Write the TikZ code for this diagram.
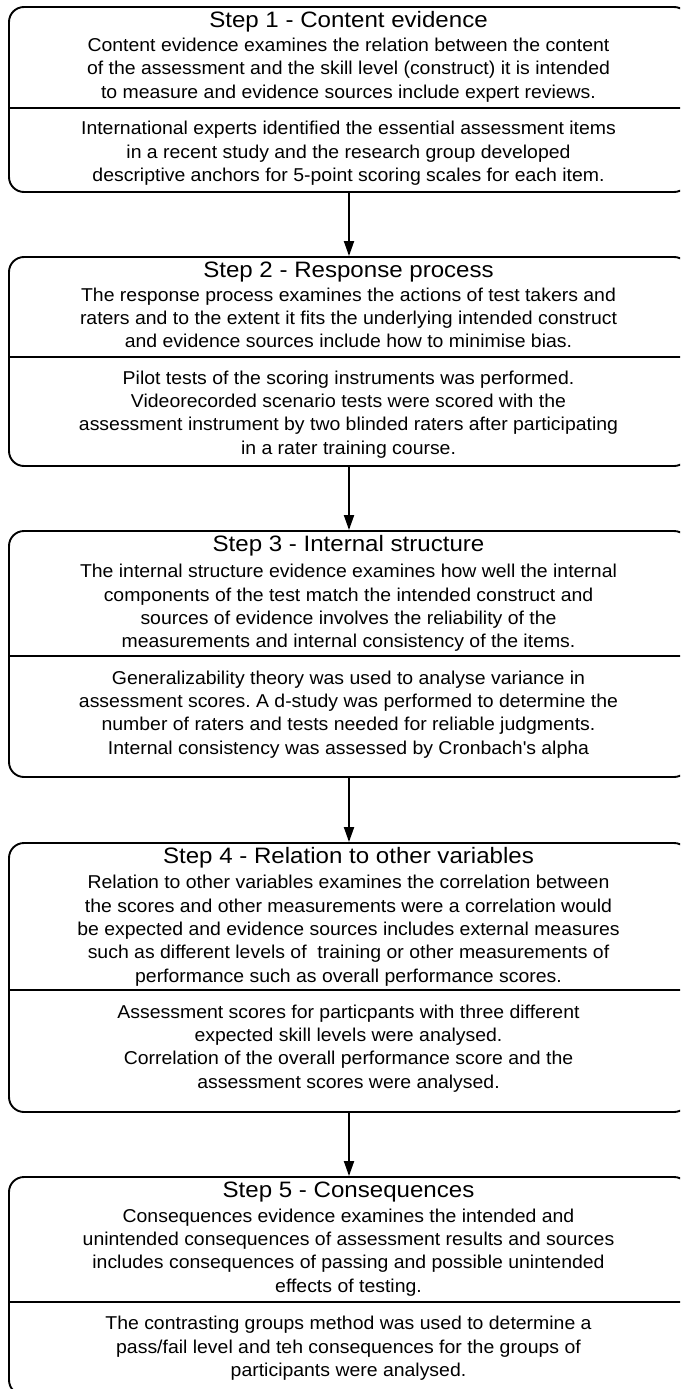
\documentclass[tikz,border=0pt]{standalone}
\usepackage{fontspec}
\setmainfont[FakeStretch=1.045]{Liberation Sans}
\newfontfamily\titlefont[FakeStretch=1.08]{Liberation Sans}
\usetikzlibrary{arrows.meta}
\frenchspacing
\newcommand{\firstline}{\rule{0pt}{16.3pt}}
\newcommand{\lastline}{\rule[-7pt]{0pt}{7pt}}
\begin{document}
\begin{tikzpicture}[x=1pt,y=-1pt,
  stepbox/.style={draw=black,line width=1.9pt,rounded corners=15pt,minimum width=680pt,inner sep=0pt,fill=white},
  divider/.style={draw=black,line width=1.9pt},
  title/.style={inner sep=0pt,anchor=base,font=\titlefont\fontsize{22.3}{26}\selectfont},
  body/.style={inner sep=0pt,anchor=north,align=center,font=\fontsize{18.6}{23.4}\selectfont,
    execute at begin node=\firstline, execute at end node=\lastline},
  link/.style={draw=black,line width=1.9pt,-{Triangle[width=10pt,length=15pt]}}]
\clip (0,0) rectangle (680,1389);
\fill[white] (0,0) rectangle (680,1389);
% boxes
\node[stepbox,minimum height=185pt] (b1) at (349,99.5) {};
\node[stepbox,minimum height=209pt] (b2) at (349,361.5) {};
\node[stepbox,minimum height=246pt] (b3) at (349,654) {};
\node[stepbox,minimum height=269pt] (b4) at (349,977.5) {};
\node[stepbox,minimum height=218pt] (b5) at (349,1286) {};
% dividers
\draw[divider] (b1.west |- 0,108) -- (b1.east |- 0,108);
\draw[divider] (b2.west |- 0,357) -- (b2.east |- 0,357);
\draw[divider] (b3.west |- 0,656) -- (b3.east |- 0,656);
\draw[divider] (b4.west |- 0,990) -- (b4.east |- 0,990);
\draw[divider] (b5.west |- 0,1302) -- (b5.east |- 0,1302);
% texts
\node[title] (t1) at (348.5,27.3) {Step 1 - Content evidence};
\node[body] (u1) at (348.5,37.7) {Content evidence examines the relation between the content\\of the assessment and the skill level (construct) it is intended\\to measure and evidence sources include expert reviews.};
\node[body] (l1) at (348.5,121) {International experts identified the essential assessment items\\in a recent study and the research group developed\\descriptive anchors for 5-point scoring scales for each item.};
\node[title] (t2) at (348.5,277.3) {Step 2 - Response process};
\node[body] (u2) at (348.5,287.5) {The response process examines the actions of test takers and\\raters and to the extent it fits the underlying intended construct\\and evidence sources include how to minimise bias.};
\node[body] (l2) at (348.5,370.5) {Pilot tests of the scoring instruments was performed.\\Videorecorded scenario tests were scored with the\\assessment instrument by two blinded raters after participating\\in a rater training course.};
\node[title] (t3) at (348.5,551.3) {Step 3 - Internal structure};
\node[body] (u3) at (348.5,564) {The internal structure evidence examines how well the internal\\components of the test match the intended construct and\\sources of evidence involves the reliability of the\\measurements and internal consistency of the items.};
\node[body] (l3) at (348.5,670.5) {Generalizability theory was used to analyse variance in\\assessment scores. A d-study was performed to determine the\\number of raters and tests needed for reliable judgments.\\Internal consistency was assessed by Cronbach\textquotesingle s alpha};
\node[title] (t4) at (348.5,863.3) {Step 4 - Relation to other variables};
\node[body] (u4) at (348.5,875) {Relation to other variables examines the correlation between\\the scores and other measurements were a correlation would\\be expected and evidence sources includes external measures\\such as different levels of\ \ training or other measurements of\\performance such as overall performance scores.};
\node[body] (l4) at (348.5,1004.5) {Assessment scores for particpants with three different\\expected skill levels were analysed.\\Correlation of the overall performance score and the\\assessment scores were analysed.};
\node[title] (t5) at (348.5,1197.3) {Step 5 - Consequences};
\node[body] (u5) at (348.5,1208.5) {Consequences evidence examines the intended and\\unintended consequences of assessment results and sources\\includes consequences of passing and possible unintended\\effects of testing.};
\node[body] (l5) at (348.5,1316) {The contrasting groups method was used to determine a\\pass/fail level and teh consequences for the groups of\\participants were analysed.};
% arrows
\draw[link] (b1.south) -- (b2.north);
\draw[link] (b2.south) -- (b3.north);
\draw[link] (b3.south) -- (b4.north);
\draw[link] (b4.south) -- (b5.north);
\end{tikzpicture}
\end{document}
